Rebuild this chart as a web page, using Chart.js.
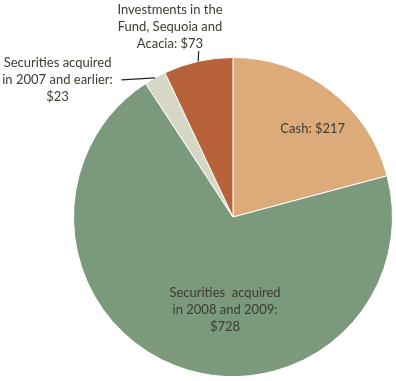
<!DOCTYPE html>
<html><head><meta charset="utf-8">
<script src="https://cdn.jsdelivr.net/npm/chart.js@4/dist/chart.umd.min.js"></script>
<style>html,body{margin:0;padding:0;background:#fff}#wrap{width:396px;height:381px}</style>
</head><body><div id="wrap"><canvas id="c" width="396" height="381"></canvas></div>
<script>
const categories = ["Cash", "Securities acquired in 2008 and 2009", "Securities acquired in 2007 and earlier", "Investments in the Fund, Sequoia and Acacia"];
const values = [217, 728, 23, 73];
const labelLines = [
  ["Cash: $217"],
  ["Securities  acquired", "in 2008 and 2009:", "$728"],
  ["Securities acquired", "in 2007 and earlier:", "$23"],
  ["Investments in the", "Fund, Sequoia and", "Acacia: $73"]
];
const colors = ["#DDAA7A", "#7B9A7C", "#D7D7C5", "#B8623B"];

// label layout in units of the radius, relative to the pie centre
const layout = [
  {x: 0.50, y: -0.55, align: "center"},
  {x: -0.05, y: 0.58, align: "center"},
  {x: -1.10, y: -0.86, align: "center", leader: {x: -0.70, y: -0.86}},
  {x: -0.395, y: -1.19, align: "center", leader: {x: -0.215, y: -1.04}}
];

const labelPlugin = {
  id: "labels",
  afterDatasetsDraw(chart) {
    const ctx = chart.ctx;
    const arcs = chart.getDatasetMeta(0).data;
    ctx.save();
    ctx.font = "13px Lato";
    ctx.fillStyle = "#3c3c30";
    ctx.textAlign = "center";
    ctx.textBaseline = "middle";
    const lh = 17;
    arcs.forEach((arc, i) => {
      const p = arc.getProps(["x", "y", "startAngle", "endAngle", "outerRadius"], true);
      const R = p.outerRadius;
      const L = layout[i];
      const cx = p.x + L.x * R, cy = p.y + L.y * R;
      const lines = labelLines[i];
      const y0 = cy - (lines.length - 1) * lh / 2;
      lines.forEach((t, k) => ctx.fillText(t, cx, y0 + k * lh));
      if (L.leader) {
        const mid = (p.startAngle + p.endAngle) / 2;
        const ax = p.x + Math.cos(mid) * R, ay = p.y + Math.sin(mid) * R;
        ctx.strokeStyle = "#222";
        ctx.lineWidth = 1.2;
        ctx.beginPath();
        ctx.moveTo(ax, ay);
        ctx.lineTo(p.x + L.leader.x * R, p.y + L.leader.y * R);
        ctx.stroke();
      }
    });
    ctx.restore();
  }
};

new Chart(document.getElementById("c"), {
  type: "pie",
  data: {
    labels: categories,
    datasets: [{
      data: values,
      backgroundColor: colors,
      borderColor: "#ffffff",
      borderWidth: 1
    }]
  },
  options: {
    responsive: false,
    animation: false,
    layout: {padding: {left: 73, right: 3, top: 57, bottom: 4}},
    plugins: {legend: {display: false}, tooltip: {enabled: false}}
  },
  plugins: [labelPlugin]
});
</script>
</body></html>
